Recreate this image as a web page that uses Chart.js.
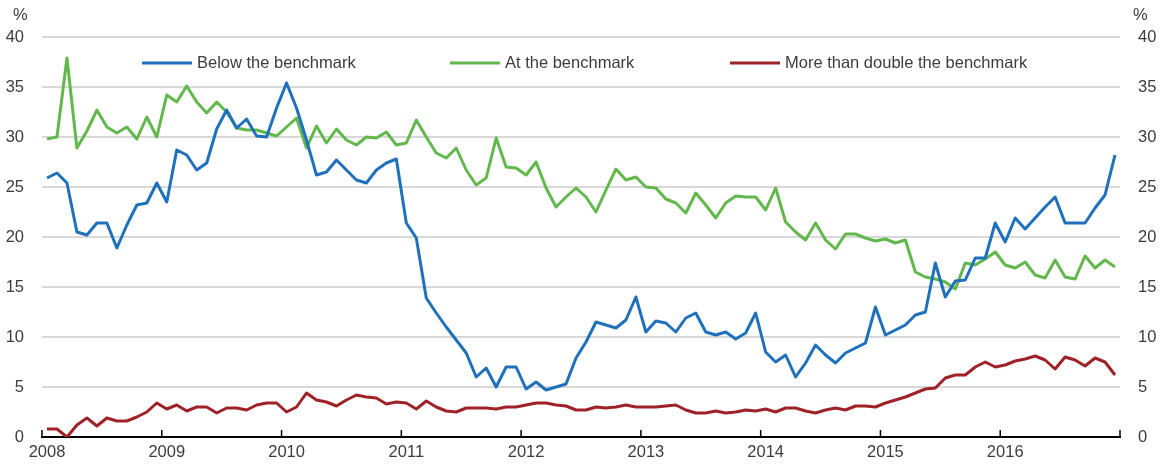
<!DOCTYPE html>
<html>
<head>
<meta charset="utf-8">
<script src="https://cdn.jsdelivr.net/npm/chart.js@4.4.1/dist/chart.umd.min.js"></script>
<style>
  html, body { margin: 0; padding: 0; background: #fff; }
  #wrap { width: 1161px; height: 466px; }
</style>
</head>
<body>
<div id="wrap"><canvas id="line-chart" width="1161" height="466"></canvas></div>
<script>
'use strict';

// monthly shares, Jan 2008 - Dec 2016 (%)
const years = ['2008', '2009', '2010', '2011', '2012', '2013', '2014', '2015', '2016'];

const belowBenchmark = [
  25.9, 26.4, 25.4, 20.5, 20.2, 21.4, 21.4, 18.9, 21.2, 23.2, 23.4, 25.4,
  23.5, 28.7, 28.2, 26.7, 27.4, 30.8, 32.7, 30.9, 31.8, 30.1, 30.0, 32.9,
  35.4, 32.9, 29.7, 26.2, 26.5, 27.7, 26.7, 25.7, 25.4, 26.7, 27.4, 27.8,
  21.4, 19.9, 13.9, 12.4, 11.0, 9.7, 8.4, 6.0, 6.9, 5.0, 7.0, 7.0,
  4.8, 5.5, 4.7, 5.0, 5.3, 7.9, 9.5, 11.5, 11.2, 10.9, 11.7, 14.0,
  10.5, 11.6, 11.4, 10.5, 11.9, 12.4, 10.5, 10.2, 10.5, 9.8, 10.4, 12.4,
  8.5, 7.5, 8.2, 6.0, 7.4, 9.2, 8.2, 7.4, 8.4, 8.9, 9.4, 13.0,
  10.2, 10.7, 11.2, 12.2, 12.5, 17.4, 14.0, 15.6, 15.7, 17.9, 17.9, 21.4,
  19.5, 21.9, 20.8, 21.9, 23.0, 24.0, 21.4, 21.4, 21.4, 22.9, 24.2, 28.2
];

const atBenchmark = [
  29.8, 30.0, 37.9, 28.9, 30.6, 32.7, 31.0, 30.4, 31.0, 29.8, 32.0, 30.0,
  34.2, 33.5, 35.1, 33.5, 32.4, 33.5, 32.5, 30.9, 30.7, 30.7, 30.4, 30.1,
  31.0, 31.9, 28.9, 31.1, 29.4, 30.8, 29.7, 29.2, 30.0, 29.9, 30.5, 29.2,
  29.4, 31.7, 30.0, 28.4, 27.9, 28.9, 26.7, 25.2, 25.9, 29.9, 27.0, 26.9,
  26.2, 27.5, 24.9, 23.0, 24.0, 24.9, 24.0, 22.5, 24.7, 26.8, 25.7, 26.0,
  25.0, 24.9, 23.8, 23.4, 22.4, 24.4, 23.2, 21.9, 23.4, 24.1, 24.0, 24.0,
  22.7, 24.9, 21.5, 20.5, 19.7, 21.4, 19.7, 18.8, 20.3, 20.3, 19.9, 19.6,
  19.8, 19.4, 19.7, 16.5, 16.0, 15.8, 15.5, 14.8, 17.4, 17.2, 17.8, 18.5,
  17.2, 16.9, 17.5, 16.2, 15.9, 17.7, 16.0, 15.8, 18.1, 16.9, 17.7, 17.0
];

const moreThanDouble = [
  0.8, 0.8, 0.0, 1.2, 1.9, 1.1, 1.9, 1.6, 1.6, 2.0, 2.5, 3.4,
  2.8, 3.2, 2.6, 3.0, 3.0, 2.4, 2.9, 2.9, 2.7, 3.2, 3.4, 3.4,
  2.5, 3.0, 4.4, 3.7, 3.5, 3.1, 3.7, 4.2, 4.0, 3.9, 3.3, 3.5,
  3.4, 2.8, 3.6, 3.0, 2.6, 2.5, 2.9, 2.9, 2.9, 2.8, 3.0, 3.0,
  3.2, 3.4, 3.4, 3.2, 3.1, 2.7, 2.7, 3.0, 2.9, 3.0, 3.2, 3.0,
  3.0, 3.0, 3.1, 3.2, 2.7, 2.4, 2.4, 2.6, 2.4, 2.5, 2.7, 2.6,
  2.8, 2.5, 2.9, 2.9, 2.6, 2.4, 2.7, 2.9, 2.7, 3.1, 3.1, 3.0,
  3.4, 3.7, 4.0, 4.4, 4.8, 4.9, 5.9, 6.2, 6.2, 7.0, 7.5, 7.0,
  7.2, 7.6, 7.8, 8.1, 7.7, 6.8, 8.0, 7.7, 7.1, 7.9, 7.5, 6.2
];

const FONT = "'Liberation Sans', Arial, sans-serif";
const TEXT = '#3c3c3c';

// each value sits in the middle of its month
const toPoints = arr => arr.map((v, i) => ({ x: i + 0.5, y: v }));

// legend drawn inside the plot, like the original
const legendInside = {
  id: 'legendInside',
  afterDraw(chart) {
    const ctx = chart.ctx;
    const startX = [142, 450, 730];
    const y = chart.chartArea.top + 26;
    ctx.save();
    ctx.font = '16.5px ' + FONT;
    ctx.textBaseline = 'middle';
    chart.data.datasets.forEach((ds, k) => {
      ctx.strokeStyle = ds.borderColor;
      ctx.lineWidth = 3;
      ctx.beginPath();
      ctx.moveTo(startX[k], y);
      ctx.lineTo(startX[k] + 50, y);
      ctx.stroke();
      ctx.fillStyle = TEXT;
      ctx.fillText(ds.label, startX[k] + 55, y);
    });
    // % units above both axes
    ctx.fillText('%', 13, 15);
    ctx.fillText('%', 1133, 15);
    ctx.restore();
  }
};

// small year ticks pointing up from the axis
const yearTicks = {
  id: 'yearTicks',
  afterDraw(chart) {
    const ctx = chart.ctx;
    const xs = chart.scales.x;
    const bottom = chart.chartArea.bottom;
    ctx.save();
    ctx.strokeStyle = '#000';
    ctx.lineWidth = 1.5;
    for (let m = 0; m <= years.length * 12; m += 12) {
      const px = xs.getPixelForValue(m);
      ctx.beginPath();
      ctx.moveTo(px, bottom);
      ctx.lineTo(px, bottom - 7);
      ctx.stroke();
    }
    ctx.restore();
  }
};

function lineChartFunc(domContext) {
  const yTicks = {
    stepSize: 5,
    padding: 18,
    color: TEXT,
    font: { family: FONT, size: 16.5 }
  };

  return new Chart(domContext, {
    type: 'line',
    data: {
      datasets: [
        {
          label: 'Below the benchmark',
          data: toPoints(belowBenchmark),
          borderColor: 'rgb(30, 113, 186)'
        },
        {
          label: 'At the benchmark',
          data: toPoints(atBenchmark),
          borderColor: 'rgb(98, 184, 76)'
        },
        {
          label: 'More than double the benchmark',
          data: toPoints(moreThanDouble),
          borderColor: 'rgb(158, 34, 40)'
        }
      ]
    },
    options: {
      responsive: false,
      animation: false,
      devicePixelRatio: 1,
      layout: { padding: { top: 37, left: 0, right: 0, bottom: 0 } },
      elements: {
        line: { borderWidth: 3, tension: 0, borderJoinStyle: 'round', fill: false },
        point: { radius: 0 }
      },
      plugins: {
        legend: { display: false },
        tooltip: { enabled: false }
      },
      scales: {
        x: {
          type: 'linear',
          min: 0,
          max: years.length * 12,
          grid: { display: false, drawTicks: false },
          border: { display: true, color: '#000', width: 2 },
          ticks: {
            stepSize: 12,
            autoSkip: false,
            maxRotation: 0,
            padding: 6,
            labelOffset: 5,
            color: TEXT,
            font: { family: FONT, size: 16.5 },
            callback: v => years[v / 12] || ''
          },
          afterFit(scale) { scale.height = 29; }
        },
        y: {
          position: 'left',
          min: 0,
          max: 40,
          ticks: yTicks,
          border: { display: false },
          grid: {
            drawTicks: false,
            lineWidth: 2,
            color: c => (c.tick && c.tick.value === 0 ? 'rgba(0,0,0,0)' : '#d8d8d8')
          },
          afterFit(scale) { scale.width = 42; }
        },
        y2: {
          position: 'right',
          min: 0,
          max: 40,
          ticks: yTicks,
          border: { display: false },
          grid: { display: false, drawTicks: false },
          afterFit(scale) { scale.width = 41; }
        }
      }
    },
    plugins: [legendInside, yearTicks]
  });
}

const lineChart = document.getElementById('line-chart').getContext('2d');
lineChartFunc(lineChart);
</script>
</body>
</html>
